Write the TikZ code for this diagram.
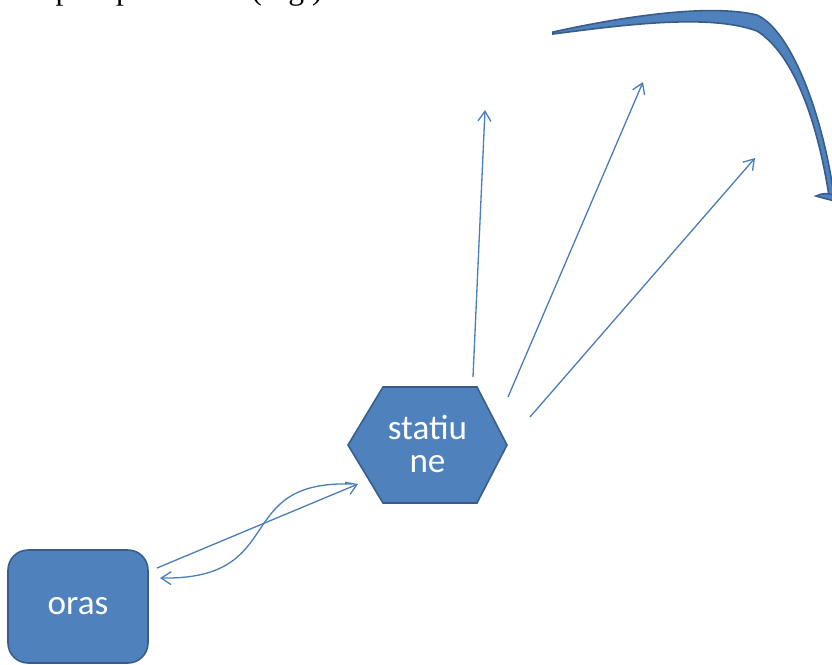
\documentclass[tikz,border=0pt]{standalone}
\usepackage{fontspec}
\setmainfont{Liberation Serif}
\newfontfamily\boxfont{Carlito}
\usetikzlibrary{arrows.meta}
\definecolor{officeblue}{HTML}{4F81BD}
\definecolor{officeedge}{HTML}{385D8A}
\definecolor{rayblue}{HTML}{4A7EBB}

\begin{document}
\begin{tikzpicture}[x=0.02cm, y=-0.02cm,
    boxtext/.style={text=white, font=\boxfont\fontsize{20}{18.8}\selectfont, align=center},
    citybox/.style={boxtext, fill=officeblue, draw=officeedge, line width=0.9pt, rounded corners=0.4cm,
      minimum width=2.8cm, minimum height=2.26cm, inner sep=0pt},
    ray/.style={draw=rayblue, line width=0.75pt, -{Straight Barb[length=2mm, width=2.6mm]}}]
  \useasboundingbox (0,0) rectangle (832,664);
  \begin{scope}
    \clip (0,0) rectangle (832,664);
    \node[anchor=base west, inner sep=0pt, font=\fontsize{18}{20}\selectfont] (caption) at (7,-1) {ca spre spre centru (Fig.)};
  \end{scope}
  \fill[officeblue, draw=officeedge, line width=0.9pt]
    (348,445) -- (383,387) -- (477,387) -- (507,445) -- (477,503) -- (383,503) -- cycle;
  \node[boxtext] (statiune) at (427.5,444) {statiu\\ne};
  \node[citybox] (oras) at (78,606.5) {oras};
  \coordinate (ray1 end) at (485,110);
  \coordinate (ray2 end) at (643,82);
  \coordinate (ray3 end) at (755,158);
  \draw[ray] ([shift={(45.5,-67)}]statiune.center) -- (ray1 end);
  \draw[ray] ([shift={(80.5,-47)}]statiune.center) -- (ray2 end);
  \draw[ray] ([shift={(102.5,-27)}]statiune.center) -- (ray3 end);
  \draw[ray] ([shift={(79,-38.5)}]oras.center) -- ([shift={(-69.5,40)}]statiune.center);
  \draw[ray] ([shift={(-75.5,40)}]statiune.center) .. controls (230,480) and (290,580) .. ([shift={(82,-28.5)}]oras.center);
  \filldraw[fill=officeblue, draw=officeedge, line width=0.9pt]
    (553,32) .. controls (630,15) and (712,4) .. (757,15)
    .. controls (790,30) and (822,110) .. (834,196)
    -- (829,196) .. controls (818,125) and (795,55) .. (757,31)
    .. controls (710,14) and (630,24) .. (553,34) -- cycle;
  \filldraw[fill=officeblue, draw=officeedge, line width=0.9pt]
    (816,196) .. controls (822,193) and (828,193) .. (834,195) -- (834,201)
    .. controls (828,199) and (822,198) .. (816,196) -- cycle;
\end{tikzpicture}
\end{document}
